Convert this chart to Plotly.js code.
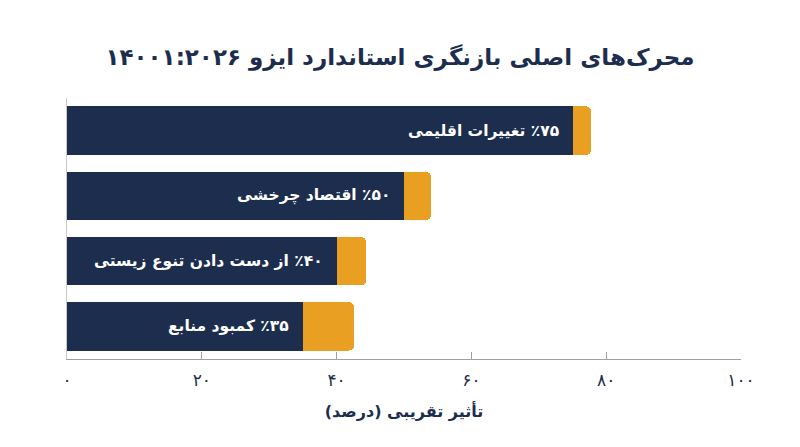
<!DOCTYPE html>
<html>
<head>
<meta charset="utf-8">
<script src="https://cdn.plot.ly/plotly-3.0.1.min.js"></script>
<style>
  html, body { margin: 0; padding: 0; background: #fff; }
  #chart { width: 800px; height: 447px; }
</style>
</head>
<body>
<div id="chart"></div>
<script>
// drivers, top to bottom
const categories = ["تغییرات اقلیمی", "اقتصاد چرخشی", "از دست دادن تنوع زیستی", "کمبود منابع"];
const impact = [75, 50, 40, 35];
const impactLabels = ["٪۷۵", "٪۵۰", "٪۴۰", "٪۳۵"];
// orange end cap length
const accentExtra = [2.8, 4, 4.4, 7.6];

const tickValues = [0, 20, 40, 60, 80, 100];
const tickLabels = ["۰", "۲۰", "۴۰", "۶۰", "۸۰", "۱۰۰"];

const NAVY = "#1c2d4d";
const ORANGE = "#e89f22";
const FONT = "DejaVu Sans, Noto Sans, sans-serif";
const rtl = s => "\u202B" + s + "\u202C";

const traces = [
  {
    type: "bar",
    orientation: "h",
    y: categories,
    x: impact,
    marker: { color: NAVY },
    hoverinfo: "skip"
  },
  {
    type: "bar",
    orientation: "h",
    y: categories,
    x: accentExtra,
    marker: { color: ORANGE },
    hoverinfo: "skip"
  }
];

const annotations = categories.map((c, i) => ({
  x: impact[i],
  y: c,
  xref: "x",
  yref: "y",
  text: "<b>" + rtl(impactLabels[i] + " " + c) + "</b>",
  showarrow: false,
  xanchor: "right",
  xshift: -12,
  font: { family: FONT, size: 15.5, color: "#ffffff" }
}));

const layout = {
  width: 800,
  height: 447,
  margin: { l: 67, r: 59, t: 98, b: 88 },
  paper_bgcolor: "#ffffff",
  plot_bgcolor: "#ffffff",
  barmode: "stack",
  bargap: 0.26,
  barcornerradius: 5,
  showlegend: false,
  title: {
    text: "<b>" + rtl("محرک‌های اصلی بازنگری استاندارد ایزو ۱۴۰۰۱:۲۰۲۶") + "</b>",
    x: 0.5,
    xanchor: "center",
    yref: "container",
    y: 0.872,
    yanchor: "middle",
    font: { family: FONT, size: 23, color: NAVY }
  },
  xaxis: {
    range: [0, 100],
    tickvals: tickValues,
    ticktext: tickLabels,
    ticks: "inside",
    ticklen: 7,
    tickcolor: "#a0a0a0",
    showline: true,
    linecolor: "#a0a0a0",
    linewidth: 1,
    showgrid: false,
    zeroline: false,
    ticklabelstandoff: 6,
    tickfont: { family: FONT, size: 17, color: NAVY },
    title: {
      text: "<b>" + rtl("تأثیر تقریبی (درصد)") + "</b>",
      standoff: 16,
      font: { family: FONT, size: 16, color: NAVY }
    },
    fixedrange: true
  },
  yaxis: {
    autorange: "reversed",
    showticklabels: false,
    ticks: "",
    showline: true,
    linecolor: "#c8c8c8",
    showgrid: false,
    zeroline: false,
    fixedrange: true
  },
  annotations: annotations
};

Plotly.newPlot("chart", traces, layout, { displayModeBar: false, staticPlot: true });
</script>
</body>
</html>
